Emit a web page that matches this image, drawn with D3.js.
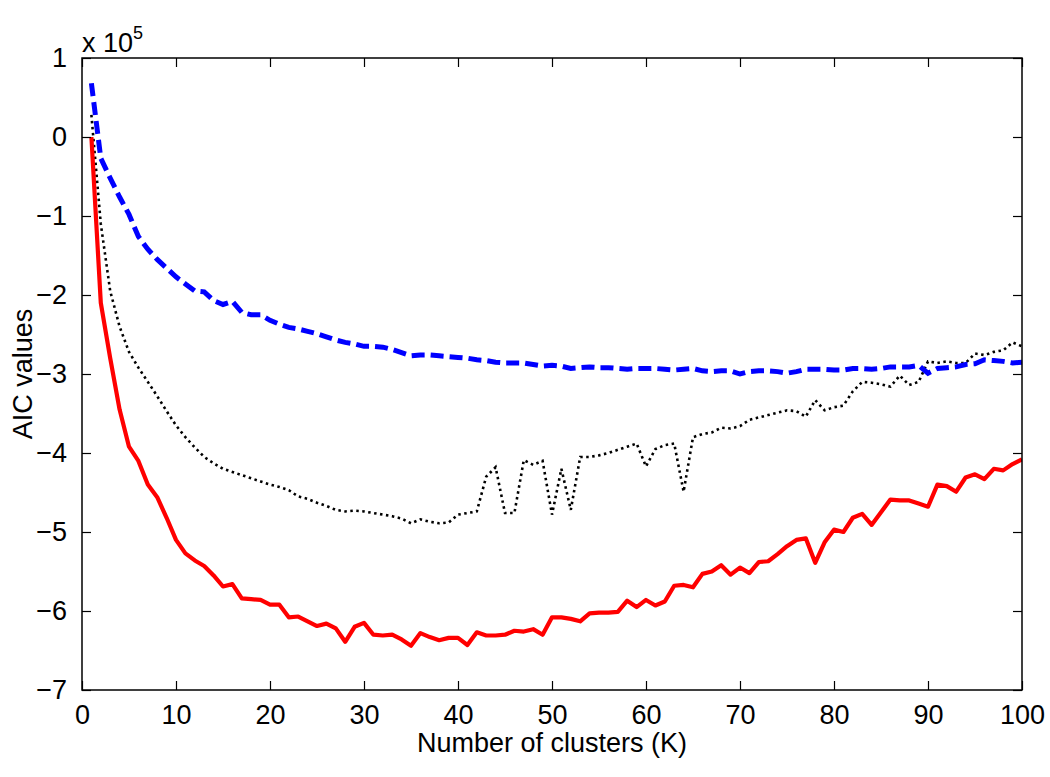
<!DOCTYPE html>
<html>
<head>
<meta charset="utf-8">
<script src="https://cdn.jsdelivr.net/npm/d3@7"></script>
<style>
  html, body { margin: 0; padding: 0; background: #fff; }
  text { font-family: "Liberation Sans", Arial, Helvetica, sans-serif; fill: #000; }
</style>
</head>
<body>
<svg id="chart" width="1050" height="777"></svg>
<script>
// Number of clusters K
const clusters = [1,2,3,4,5,6,7,8,9,10,11,12,13,14,15,16,17,18,19,20,21,22,23,24,25,26,27,28,29,30,31,32,33,34,35,36,37,38,39,40,41,42,43,44,45,46,47,48,49,50,51,52,53,54,55,56,57,58,59,60,61,62,63,64,65,66,67,68,69,70,71,72,73,74,75,76,77,78,79,80,81,82,83,84,85,86,87,88,89,90,91,92,93,94,95,96,97,98,99,100];

// AIC values, in units of 10^5
const aicRed = [0.0,-2.1,-2.8,-3.45,-3.92,-4.1,-4.4,-4.56,-4.82,-5.1,-5.27,-5.36,-5.43,-5.55,-5.69,-5.66,-5.84,-5.85,-5.86,-5.92,-5.92,-6.08,-6.07,-6.13,-6.19,-6.16,-6.22,-6.39,-6.2,-6.15,-6.3,-6.31,-6.3,-6.36,-6.44,-6.28,-6.33,-6.37,-6.34,-6.34,-6.43,-6.27,-6.31,-6.31,-6.3,-6.25,-6.26,-6.23,-6.3,-6.08,-6.08,-6.1,-6.13,-6.03,-6.02,-6.02,-6.01,-5.87,-5.95,-5.86,-5.93,-5.88,-5.68,-5.67,-5.7,-5.53,-5.5,-5.42,-5.54,-5.45,-5.52,-5.38,-5.37,-5.28,-5.18,-5.1,-5.08,-5.39,-5.13,-4.97,-5.0,-4.82,-4.77,-4.91,-4.75,-4.59,-4.6,-4.6,-4.64,-4.68,-4.4,-4.42,-4.49,-4.31,-4.27,-4.33,-4.2,-4.22,-4.14,-4.08];

const aicBlue = [0.68,-0.27,-0.52,-0.76,-0.98,-1.26,-1.42,-1.55,-1.66,-1.77,-1.86,-1.95,-1.96,-2.07,-2.12,-2.08,-2.22,-2.25,-2.25,-2.32,-2.37,-2.41,-2.43,-2.46,-2.49,-2.53,-2.57,-2.6,-2.62,-2.65,-2.65,-2.66,-2.69,-2.73,-2.77,-2.76,-2.76,-2.77,-2.78,-2.79,-2.8,-2.82,-2.83,-2.85,-2.86,-2.86,-2.86,-2.88,-2.9,-2.89,-2.9,-2.93,-2.92,-2.91,-2.92,-2.92,-2.93,-2.94,-2.93,-2.93,-2.93,-2.94,-2.95,-2.94,-2.93,-2.96,-2.97,-2.96,-2.96,-3.0,-2.97,-2.96,-2.96,-2.97,-2.99,-2.97,-2.94,-2.94,-2.94,-2.95,-2.95,-2.93,-2.93,-2.94,-2.93,-2.91,-2.91,-2.91,-2.89,-2.99,-2.93,-2.92,-2.91,-2.88,-2.87,-2.82,-2.83,-2.84,-2.86,-2.85];

const aicBlack = [0.28,-1.1,-1.95,-2.4,-2.72,-2.92,-3.1,-3.28,-3.47,-3.65,-3.8,-3.93,-4.05,-4.13,-4.2,-4.24,-4.28,-4.32,-4.36,-4.4,-4.43,-4.47,-4.55,-4.58,-4.63,-4.67,-4.72,-4.74,-4.73,-4.74,-4.76,-4.78,-4.8,-4.83,-4.89,-4.84,-4.87,-4.89,-4.88,-4.78,-4.76,-4.74,-4.3,-4.18,-4.76,-4.76,-4.09,-4.15,-4.1,-4.78,-4.2,-4.72,-4.05,-4.05,-4.03,-4.0,-3.96,-3.92,-3.88,-4.17,-3.95,-3.9,-3.88,-4.49,-3.8,-3.76,-3.74,-3.68,-3.69,-3.66,-3.58,-3.55,-3.52,-3.49,-3.46,-3.47,-3.54,-3.33,-3.46,-3.42,-3.4,-3.22,-3.1,-3.11,-3.13,-3.16,-3.02,-3.14,-3.1,-2.84,-2.86,-2.84,-2.86,-2.86,-2.74,-2.76,-2.72,-2.7,-2.6,-2.65];

const xTicks = [0,10,20,30,40,50,60,70,80,90,100];
const yTicks = [1,0,-1,-2,-3,-4,-5,-6,-7];
const xLabel = "Number of clusters (K)";
const yLabel = "AIC values";

const svg = d3.select("#chart");
const L = 82, R = 1022, T = 58, B = 690;
const x = d3.scaleLinear().domain([0, 100]).range([L, R]);
const y = d3.scaleLinear().domain([-7, 1]).range([B, T]);
const fmt = d => d < 0 ? "\u2212" + Math.abs(d) : String(d);
const FS = 27;

svg.append("rect").attr("width", 1050).attr("height", 777).attr("fill", "#fff");

// Clip
svg.append("clipPath").attr("id", "clip").append("rect")
  .attr("x", L).attr("y", T).attr("width", R - L).attr("height", B - T);

// Lines
const line = vals => d3.line().x((d, i) => x(clusters[i])).y(d => y(d))(vals);
const g = svg.append("g").attr("clip-path", "url(#clip)");
g.append("path").attr("d", line(aicBlack)).attr("fill", "none")
  .attr("stroke", "#000").attr("stroke-width", 2.6).attr("stroke-dasharray", "2.5,3.5");
g.append("path").attr("d", line(aicBlue)).attr("fill", "none")
  .attr("stroke", "#0000ff").attr("stroke-width", 5).attr("stroke-dasharray", "13,6");
g.append("path").attr("d", line(aicRed)).attr("fill", "none")
  .attr("stroke", "#ff0000").attr("stroke-width", 4.2).attr("stroke-linejoin", "round");

// Axes (MATLAB-style box, inward ticks on all sides)
const tk = 9;
const axB = svg.append("g").attr("transform", `translate(0,${B})`)
  .call(d3.axisBottom(x).tickValues(xTicks).tickSizeInner(-tk).tickSizeOuter(0).tickPadding(tk + 6).tickFormat(fmt));
const axT = svg.append("g").attr("transform", `translate(0,${T})`)
  .call(d3.axisTop(x).tickValues(xTicks).tickSizeInner(-tk).tickSizeOuter(0).tickFormat(""));
const axL = svg.append("g").attr("transform", `translate(${L},0)`)
  .call(d3.axisLeft(y).tickValues(yTicks).tickSizeInner(-tk).tickSizeOuter(0).tickPadding(tk + 6).tickFormat(fmt));
const axR = svg.append("g").attr("transform", `translate(${R},0)`)
  .call(d3.axisRight(y).tickValues(yTicks).tickSizeInner(-tk).tickSizeOuter(0).tickFormat(""));
[axB, axT, axL, axR].forEach(a => {
  a.select(".domain").remove();
  a.selectAll(".tick line").attr("stroke", "#000").attr("stroke-width", 1.2);
  a.selectAll("text").attr("font-size", FS).attr("font-family", null).attr("fill", "#000");
});
svg.append("rect").attr("x", L).attr("y", T).attr("width", R - L).attr("height", B - T)
  .attr("fill", "none").attr("stroke", "#000").attr("stroke-width", 1.5);

// Exponent label
const ex = svg.append("text").attr("x", L).attr("y", 52).attr("font-size", FS);
ex.append("tspan").text("x 10");
ex.append("tspan").attr("font-size", 18).attr("dy", -13).text("5");

// Axis labels
svg.append("text").attr("x", (L + R) / 2).attr("y", 752).attr("text-anchor", "middle")
  .attr("font-size", FS).text(xLabel);
svg.append("text").attr("transform", `translate(32,${(T + B) / 2}) rotate(-90)`)
  .attr("text-anchor", "middle").attr("font-size", FS).text(yLabel);
</script>
</body>
</html>
